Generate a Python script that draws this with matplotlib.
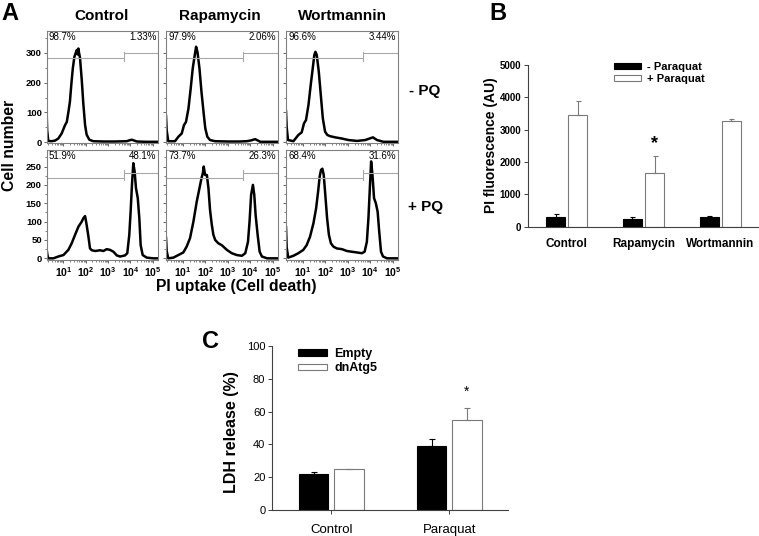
import matplotlib
matplotlib.use('Agg')
import matplotlib.pyplot as plt
import numpy as np

plt.rcParams['font.family'] = ['Liberation Sans', 'DejaVu Sans']
plt.rcParams['mathtext.fontset'] = 'custom'
plt.rcParams['mathtext.rm'] = 'Liberation Sans'
plt.rcParams['mathtext.bf'] = 'Liberation Sans:bold'

# ---------------- Panel A data (x in log10 PI units, y = cell counts) -------------
treatments = ['Control', 'Rapamycin', 'Wortmannin']

ctrl_top_x = [0.25, 0.27, 0.32, 0.45, 0.62, 0.77, 0.92, 1.07, 1.15, 1.22, 1.29, 1.36, 1.42, 1.49, 1.55,
              1.60, 1.64, 1.67, 1.70, 1.74, 1.82, 1.89, 1.97, 2.04, 2.16, 2.34, 2.8, 3.3, 3.84, 3.95,
              4.06, 4.18, 4.29, 4.7, 5.25]
ctrl_top_y = [93, 40, 4, 3, 5, 12, 29, 57, 68, 100, 136, 200, 248, 287, 300,
              310, 295, 315, 300, 285, 210, 130, 57, 25, 8, 3, 2, 2, 3, 6,
              8, 5, 2, 1, 1]

rapa_top_x = [0.25, 0.28, 0.35, 0.50, 0.65, 0.80, 0.95, 1.05, 1.14, 1.25, 1.35, 1.44, 1.53, 1.59, 1.65,
              1.74, 1.83, 1.92, 2.00, 2.09, 2.21, 2.44, 3.0, 3.5, 3.85, 4.05, 4.22, 4.35, 4.45, 4.8, 5.25]
rapa_top_y = [88, 40, 3, 3, 3, 18, 29, 57, 68, 113, 181, 248, 293, 321, 304,
              248, 169, 102, 46, 18, 7, 3, 2, 2, 3, 6, 10, 5, 1, 1, 1]

wort_top_x = [0.25, 0.28, 0.34, 0.58, 0.80, 0.95, 1.05, 1.14, 1.25, 1.35, 1.44, 1.51, 1.56, 1.62, 1.71,
              1.80, 1.89, 1.99, 2.09, 2.21, 2.44, 2.74, 3.03, 3.41, 3.78, 3.97, 4.12, 4.30, 4.59, 5.25]
wort_top_y = [104, 50, 7, 3, 24, 33, 63, 74, 125, 192, 248, 293, 304, 293, 237,
              158, 80, 35, 24, 20, 16, 12, 7, 4, 7, 12, 16, 7, 1, 1]

ctrl_bot_x = [0.25, 0.28, 0.32, 0.55, 0.77, 1.00, 1.22, 1.37, 1.52, 1.67, 1.82, 1.89, 1.97, 2.04, 2.12,
              2.19, 2.27, 2.42, 2.64, 2.79, 2.94, 3.09, 3.24, 3.39, 3.54, 3.76, 3.86, 3.95, 4.01, 4.07,
              4.13, 4.19, 4.25, 4.33, 4.40, 4.46, 4.55, 4.73, 5.03, 5.25]
ctrl_bot_y = [23, 10, 0, 0, 5, 9, 23, 41, 64, 86, 100, 109, 115, 91, 59,
              27, 22, 20, 22, 20, 25, 23, 18, 8, 5, 8, 14, 64, 127, 200,
              259, 236, 191, 164, 109, 36, 9, 2, 0, 0]

rapa_bot_x = [0.25, 0.28, 0.35, 0.58, 0.80, 1.02, 1.17, 1.32, 1.47, 1.62, 1.74, 1.83, 1.89, 1.93, 1.99,
              2.07, 2.14, 2.21, 2.29, 2.36, 2.44, 2.58, 2.73, 2.96, 3.18, 3.40, 3.63, 3.78, 3.90, 3.97,
              4.04, 4.12, 4.18, 4.24, 4.33, 4.42, 4.52, 4.75, 5.25]
rapa_bot_y = [56, 20, 0, 2, 9, 16, 32, 55, 100, 155, 191, 218, 232, 250, 227,
              227, 191, 132, 91, 64, 50, 41, 36, 23, 14, 9, 7, 14, 45, 100,
              173, 200, 173, 118, 64, 18, 5, 0, 0]

wort_bot_x = [0.25, 0.28, 0.35, 0.58, 0.80, 1.02, 1.17, 1.32, 1.47, 1.59, 1.68, 1.75, 1.81, 1.87, 1.93,
              2.00, 2.08, 2.16, 2.25, 2.36, 2.51, 2.74, 2.96, 3.18, 3.41, 3.63, 3.75, 3.85, 3.92, 3.99,
              4.04, 4.10, 4.17, 4.25, 4.33, 4.40, 4.48, 4.57, 4.75, 5.25]
wort_bot_y = [85, 30, 2, 7, 14, 23, 36, 59, 95, 136, 182, 223, 241, 244, 227,
              173, 109, 64, 41, 32, 27, 25, 20, 18, 16, 14, 18, 45, 109, 200,
              264, 227, 164, 150, 127, 73, 18, 5, 0, 0]

top_left_pct = ['98.7%', '97.9%', '96.6%']
top_right_pct = ['1.33%', '2.06%', '3.44%']
bot_left_pct = ['51.9%', '73.7%', '68.4%']
bot_right_pct = ['48.1%', '26.3%', '31.6%']

gate_x = [3.73, 3.70, 3.67]
gate_top = (282, 299, 273, 304)     # left level, right level, tick low, tick high
gate_bot = (220, 233, 213, 240)

# ---------------- Panel B data ----------------
b_categories = ['Control', 'Rapamycin', 'Wortmannin']
b_minus = [312, 238, 290]
b_minus_err = [84, 52, 52]
b_plus = [3468, 1667, 3261]
b_plus_err = [424, 528, 83]
b_labels = ['- Paraquat', '+ Paraquat']

# ---------------- Panel C data ----------------
c_categories = ['Control', 'Paraquat']
c_empty = [22.1, 39.1]
c_empty_err = [1.2, 4.0]
c_dn = [24.9, 54.9]
c_dn_err = [0.3, 7.0]
c_labels = ['Empty', 'dnAtg5']

# =====================================================================
W, H = 759, 536
fig = plt.figure(figsize=(W / 100, H / 100), dpi=100)


def ax_px(l, t, r, b):
    return fig.add_axes([l / W, 1 - b / H, (r - l) / W, (b - t) / H])


lefts = [46.7, 166.0, 286.0]
rights = [158.3, 278.3, 398.3]
rows = [(31, 143), (150, 260)]
hist_data = [[(ctrl_top_x, ctrl_top_y), (rapa_top_x, rapa_top_y), (wort_top_x, wort_top_y)],
             [(ctrl_bot_x, ctrl_bot_y), (rapa_bot_x, rapa_bot_y), (wort_bot_x, wort_bot_y)]]
pcts = [(top_left_pct, top_right_pct), (bot_left_pct, bot_right_pct)]
gates = [gate_top, gate_bot]
ylims = [(-3, 374), (-4.5, 295)]
minor_x = [np.log10(k * 10 ** n) for n in range(0, 6) for k in range(2, 10)]
minor_x = [v for v in minor_x if 0.25 <= v <= 5.25]

for r in range(2):
    t, b = rows[r]
    for c in range(3):
        ax = ax_px(lefts[c], t, rights[c], b)
        hx, hy = hist_data[r][c]
        ax.plot(hx, hy, color='black', lw=1.8, solid_joinstyle='round')
        ax.set_xlim(0.25, 5.25)
        ax.set_ylim(*ylims[r])
        gl, gr, g0, g1 = gates[r]
        gx = gate_x[c]
        gcol = '#a8a8a8'
        ax.plot([0.25, gx], [gl, gl], color=gcol, lw=0.8)
        ax.plot([gx, 5.25], [gr, gr], color=gcol, lw=0.8)
        ax.plot([gx, gx], [g0, g1], color=gcol, lw=0.8)
        for s in ax.spines.values():
            s.set_color('#808080')
            s.set_linewidth(0.8)
        ax.text(0.02, 0.995, pcts[r][0][c], transform=ax.transAxes, ha='left', va='top',
                fontsize=7, fontweight='medium')
        ax.text(0.985, 0.995, pcts[r][1][c], transform=ax.transAxes, ha='right', va='top',
                fontsize=7, fontweight='medium')
        if r == 0:
            ax.set_yticks([0, 100, 200, 300])
            ax.set_yticks([50, 150, 250, 350], minor=True)
        else:
            ax.set_yticks([0, 50, 100, 150, 200, 250])
            ax.set_yticks([25, 75, 125, 175, 225, 275], minor=True)
        ax.set_xticks([1, 2, 3, 4, 5])
        ax.set_xticks(minor_x, minor=True)
        ax.tick_params(which='major', direction='out', length=2.5, width=0.6, color='#505050', pad=1)
        ax.tick_params(which='minor', direction='out', length=1.3, width=0.5, color='#505050')
        if c == 0:
            ax.set_yticklabels([str(v) for v in ax.get_yticks()], fontsize=6.8, fontweight='bold')
        else:
            ax.set_yticklabels([])
        if r == 1:
            ax.set_xticklabels(['$\\mathbf{10^{%d}}$' % k for k in range(1, 6)], fontsize=7.5)
        else:
            ax.set_xticklabels([])

for name, cx in zip(treatments, [102, 220, 342.5]):
    fig.text(cx / W, 1 - 16 / H, name, ha='center', va='center', fontsize=11, fontweight='bold')

fig.text(10 / W, 1 - 145 / H, 'Cell number', rotation=90, ha='center', va='center',
         fontsize=11.3, fontweight='bold')
fig.text(236.7 / W, 1 - 286 / H, 'PI uptake (Cell death)', ha='center', va='center',
         fontsize=11.3, fontweight='bold')
fig.text(425 / W, 1 - 91 / H, '- PQ', ha='center', va='center', fontsize=11, fontweight='bold')
fig.text(426 / W, 1 - 207 / H, '+ PQ', ha='center', va='center', fontsize=11, fontweight='bold')

# ---------------- Panel B ----------------
axb = ax_px(528.3, 65, 758.7, 226.7)
xb = np.arange(len(b_categories))
zb = [0] * len(b_categories)
hb1 = axb.bar(xb - 0.145, b_minus, 0.25, color='black', edgecolor='black', lw=0.8,
              yerr=[zb, b_minus_err], error_kw=dict(ecolor='black', capsize=1.8, elinewidth=0.8, capthick=0.8),
              label=b_labels[0])
hb2 = axb.bar(xb + 0.145, b_plus, 0.25, color='white', edgecolor='#7a7a7a', lw=0.8,
              yerr=[zb, b_plus_err], error_kw=dict(ecolor='#7a7a7a', capsize=1.8, elinewidth=0.8, capthick=0.8),
              label=b_labels[1])
axb.set_xlim(-0.5, 2.5)
axb.set_ylim(0, 5000)
axb.set_yticks([0, 1000, 2000, 3000, 4000, 5000])
axb.set_yticklabels(['0', '1000', '2000', '3000', '4000', '5000'], fontsize=7, fontweight='bold')
axb.set_xticks(xb)
axb.set_xticklabels(b_categories, fontsize=8.5, fontweight='bold')
axb.tick_params(axis='y', direction='out', length=3, width=0.7, color='#404040', pad=2)
axb.tick_params(axis='x', length=0, pad=8)
for s in ['top', 'right']:
    axb.spines[s].set_visible(False)
for s in ['left', 'bottom']:
    axb.spines[s].set_color('#404040')
    axb.spines[s].set_linewidth(0.8)
axb.text(1 + 0.145, 2560, '*', ha='center', va='center', fontsize=13, fontweight='bold')
axb.legend(handles=[hb1, hb2], labels=b_labels, loc='upper left', bbox_to_anchor=(614 / W, 1 - 62 / H),
           bbox_transform=fig.transFigure, frameon=False, prop={'weight': 'bold', 'size': 8},
           handlelength=2.4, handleheight=0.45, handletextpad=0.6, labelspacing=0.15,
           borderpad=0, borderaxespad=0)
fig.text(491 / W, 1 - 145 / H, 'PI fluorescence (AU)', rotation=90, ha='center', va='center',
         fontsize=10, fontweight='bold')

# ---------------- Panel C ----------------
axc = ax_px(272.3, 345.7, 508.3, 510.3)
xc = np.arange(len(c_categories))
zc = [0] * len(c_categories)
hc1 = axc.bar(xc - 0.15, c_empty, 0.246, color='black', edgecolor='black', lw=0.8,
              yerr=[zc, c_empty_err], error_kw=dict(ecolor='black', capsize=2, elinewidth=0.8, capthick=0.8))
hc2 = axc.bar(xc + 0.15, c_dn, 0.246, color='white', edgecolor='#7a7a7a', lw=0.8,
              yerr=[zc, c_dn_err], error_kw=dict(ecolor='#7a7a7a', capsize=2, elinewidth=0.8, capthick=0.8))
axc.set_xlim(-0.5, 1.5)
axc.set_ylim(0, 100)
axc.set_yticks([0, 20, 40, 60, 80, 100])
axc.set_yticklabels(['0', '20', '40', '60', '80', '100'], fontsize=8)
axc.set_xticks(xc)
axc.set_xticklabels(c_categories, fontsize=9.5)
axc.tick_params(axis='y', direction='out', length=3, width=0.7, color='#404040', pad=2)
axc.tick_params(axis='x', direction='out', length=3, width=0.7, color='#404040', pad=7)
for s in ['top', 'right']:
    axc.spines[s].set_visible(False)
for s in ['left', 'bottom']:
    axc.spines[s].set_color('#404040')
    axc.spines[s].set_linewidth(0.8)
axc.text(1 + 0.15, 72, '*', ha='center', va='center', fontsize=10)
axc.legend(handles=[hc1, hc2], labels=c_labels, loc='upper left', bbox_to_anchor=(297.5 / W, 1 - 348 / H),
           bbox_transform=fig.transFigure, frameon=False, prop={'weight': 'bold', 'size': 9},
           handlelength=2.35, handleheight=0.4, handletextpad=0.6, labelspacing=0.2,
           borderpad=0, borderaxespad=0)
fig.text(231.7 / W, 1 - 432.5 / H, 'LDH release (%)', rotation=90, ha='center', va='center',
         fontsize=11.5, fontweight='bold')

# Panel letters
fig.text(1 / W, 1 - 2 / H, 'A', ha='left', va='top', fontsize=17, fontweight='bold')
fig.text(489 / W, 1 - 2 / H, 'B', ha='left', va='top', fontsize=17, fontweight='bold')
fig.text(202 / W, 1 - 330 / H, 'C', ha='left', va='top', fontsize=17, fontweight='bold')

fig.savefig('out.png', dpi=100)
